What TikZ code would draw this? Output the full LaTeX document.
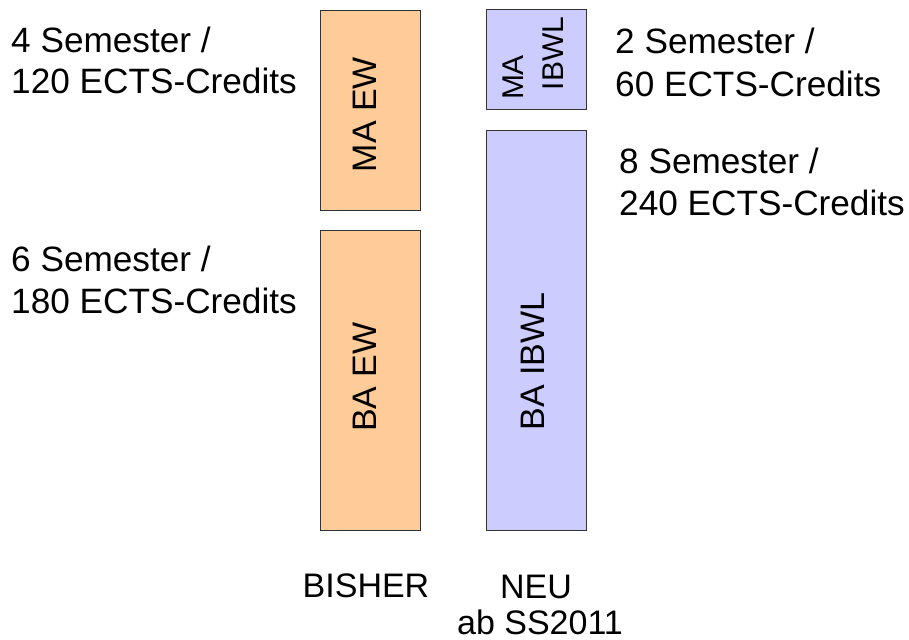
\documentclass[tikz,border=0pt]{standalone}
\usepackage{fontspec}
\setmainfont{Liberation Sans}
\definecolor{ewfill}{HTML}{FFCC99}
\definecolor{ibfill}{HTML}{CCCCFF}
\definecolor{edge}{HTML}{333333}
\begin{document}
\begin{tikzpicture}[x=1pt,y=-1pt,
  prog/.style={draw=edge, line width=1pt, inner sep=0pt, minimum width=100pt},
  lbl/.style={inner sep=0pt, font=\fontsize{34}{41}\selectfont},
  sidelbl/.style={inner sep=0pt, font=\fontsize{35.2}{41}\selectfont, anchor=base west},
  vlbl/.style={lbl, rotate=90, anchor=center},
  smallv/.style={inner sep=0pt, rotate=90, anchor=center, font=\fontsize{30}{36}\selectfont}]
\useasboundingbox (0,0) rectangle (909,639);
% boxes
\node[prog, fill=ewfill, minimum height=200pt] (maew) at (370.7,110.3) {};
\node[prog, fill=ewfill, minimum height=300pt] (baew) at (370.7,380.7) {};
\node[prog, fill=ibfill, minimum height=100pt] (maib) at (536.7,60) {};
\node[prog, fill=ibfill, minimum height=400pt] (baib) at (536.7,330.3) {};
% box labels
\node[vlbl] (tmaew) at (365,114.5) {MA EW};
\node[vlbl] (tbaew) at (365,377) {BA EW};
\node[vlbl] (tbaib) at (532.5,361.7) {BA IBWL};
\node[smallv] (tma) at (512.7,77.5) {MA};
\node[smallv] (tib) at (553.5,53.4) {IBWL};
% side labels
\node[sidelbl] (l1a) at (11,53) {4 Semester /};
\node[sidelbl] (l1b) at (11,94) {120 ECTS-Credits};
\node[sidelbl] (l2a) at (11,271) {6 Semester /};
\node[sidelbl] (l2b) at (11,313) {180 ECTS-Credits};
\node[sidelbl] (r1a) at (615,54) {2 Semester /};
\node[sidelbl] (r1b) at (615,96.5) {60 ECTS-Credits};
\node[sidelbl] (r2a) at (619,173.3) {8 Semester /};
\node[sidelbl] (r2b) at (619,215) {240 ECTS-Credits};
% bottom labels
\node[lbl, anchor=base] (bisher) at (366,597) {BISHER};
\node[lbl, anchor=base] (neu) at (536,598) {NEU};
\node[lbl, anchor=base] (ab) at (540,634) {ab SS2011};
\end{tikzpicture}
\end{document}
